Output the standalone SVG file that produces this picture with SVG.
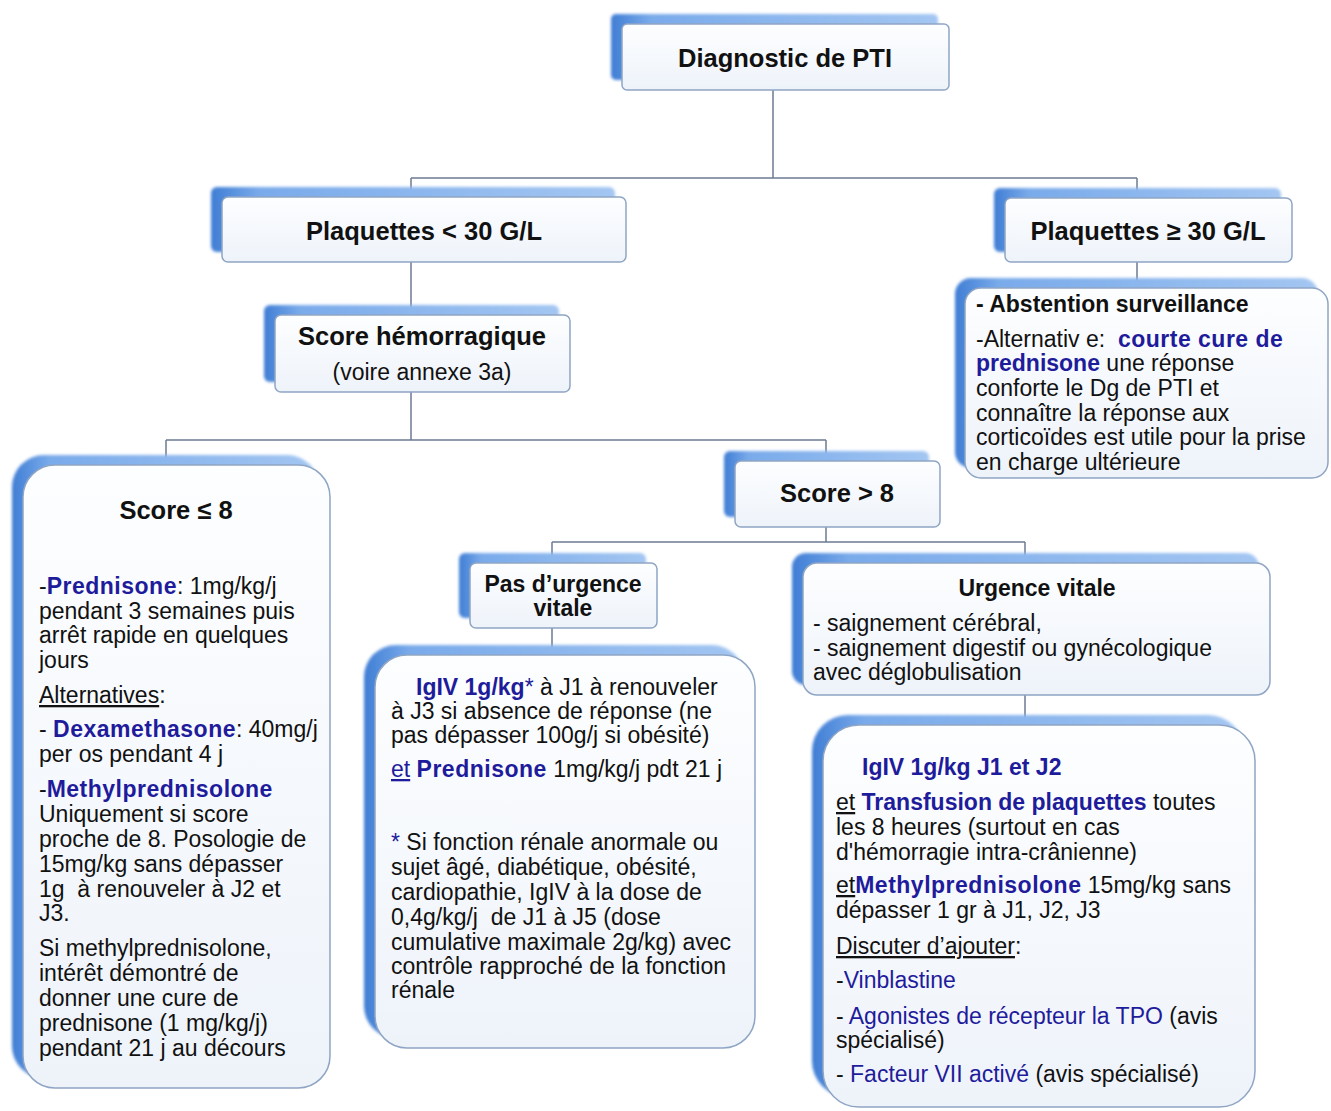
<svg xmlns="http://www.w3.org/2000/svg" width="1331" height="1111" viewBox="0 0 1331 1111">
<defs>
<linearGradient id="gs" x1="0" y1="0" x2="1" y2="0">
<stop offset="0" stop-color="#3f7dd4"/>
<stop offset="0.12" stop-color="#79aaea"/>
<stop offset="1" stop-color="#a3c6f2"/>
</linearGradient>
<linearGradient id="gf" x1="0" y1="0" x2="0" y2="1">
<stop offset="0" stop-color="#fdfeff"/>
<stop offset="1" stop-color="#eef3fa"/>
</linearGradient>
<filter id="blur" x="-5%" y="-5%" width="110%" height="110%">
<feGaussianBlur stdDeviation="1.5"/>
</filter>
<style>
.sh{fill:url(#gs);filter:url(#blur)}
.bx{fill:url(#gf);stroke:#8fa5c4;stroke-width:1.5}
.t{font-family:"Liberation Sans",Arial,sans-serif;font-size:23px;fill:#111}
.h{font-weight:bold;font-size:25.5px}
.b{font-weight:bold}
.bl{fill:#1f1c9c}
.ls{letter-spacing:0.5px}
.u{text-decoration:underline}
.c{text-anchor:middle}
.cn{fill:none;stroke:#6c7b92;stroke-width:1.5}
</style>
</defs>
<rect width="1331" height="1111" fill="#ffffff"/>
<g id="connectors">
<path class="cn" d="M773 90V178M411 178H1137M411 178V197M1137 178V198M411 262V315M1137 262V288M411 392V440M166 440H826M166 440V465M826 440V461M826 527V542M552 542H1025M552 542V563M1025 542V563M552 628V655M1025 695V725"/>
</g>
<g id="diagnostic">
<rect class="sh" x="611" y="14" width="327" height="66" rx="5"/>
<rect class="bx" x="622" y="24" width="327" height="66" rx="5"/>
<text class="t h c" x="785" y="67">Diagnostic de PTI</text>
</g>
<g id="plaquettes-lt30">
<rect class="sh" x="211" y="187" width="404" height="65" rx="6"/>
<rect class="bx" x="222" y="197" width="404" height="65" rx="6"/>
<text class="t h c" x="424" y="240">Plaquettes &lt; 30 G/L</text>
</g>
<g id="plaquettes-ge30">
<rect class="sh" x="994" y="188" width="287" height="64" rx="6"/>
<rect class="bx" x="1005" y="198" width="287" height="64" rx="6"/>
<text class="t h c" x="1148" y="240">Plaquettes ≥ 30 G/L</text>
</g>
<g id="score-hemorragique">
<rect class="sh" x="264" y="305" width="295" height="77" rx="6"/>
<rect class="bx" x="275" y="315" width="295" height="77" rx="6"/>
<text class="t h c" x="422" y="345">Score hémorragique</text>
<text class="t c" x="422" y="380">(voire annexe 3a)</text>
</g>
<g id="abstention">
<rect class="sh" x="955" y="278" width="363" height="190" rx="16"/>
<rect class="bx" x="965" y="288" width="363" height="190" rx="16"/>
<text class="t b" x="976" y="312">- Abstention surveillance</text>
<text class="t" x="976" y="347" xml:space="preserve">-Alternativ e:  <tspan class="b bl ls">courte cure de</tspan></text>
<text class="t" x="976" y="371"><tspan class="b bl">prednisone</tspan> une réponse</text>
<text class="t" x="976" y="396">conforte le Dg de PTI et</text>
<text class="t" x="976" y="421">connaître la réponse aux</text>
<text class="t" x="976" y="445">corticoïdes est utile pour la prise</text>
<text class="t" x="976" y="470">en charge ultérieure</text>
</g>
<g id="score-le8">
<rect class="sh" x="12" y="455" width="307" height="623" rx="32"/>
<rect class="bx" x="23" y="465" width="307" height="623" rx="32"/>
<text class="t h c" x="176" y="519">Score ≤ 8</text>
<text class="t" x="39" y="594">-<tspan class="b bl ls">Prednisone</tspan>: 1mg/kg/j</text>
<text class="t" x="39" y="619">pendant 3 semaines puis</text>
<text class="t" x="39" y="643">arrêt rapide en quelques</text>
<text class="t" x="39" y="668">jours</text>
<text class="t" x="39" y="703"><tspan class="u">Alternatives</tspan>:</text>
<text class="t" x="39" y="737">- <tspan class="b bl ls">Dexamethasone</tspan>: 40mg/j</text>
<text class="t" x="39" y="762">per os pendant 4 j</text>
<text class="t" x="39" y="797">-<tspan class="b bl ls">Methylprednisolone</tspan></text>
<text class="t" x="39" y="822">Uniquement si score</text>
<text class="t" x="39" y="847">proche de 8. Posologie de</text>
<text class="t" x="39" y="872">15mg/kg sans dépasser</text>
<text class="t" x="39" y="897" xml:space="preserve">1g  à renouveler à J2 et</text>
<text class="t" x="39" y="921">J3.</text>
<text class="t" x="39" y="956">Si methylprednisolone,</text>
<text class="t" x="39" y="981">intérêt démontré de</text>
<text class="t" x="39" y="1006">donner une cure de</text>
<text class="t" x="39" y="1031">prednisone (1 mg/kg/j)</text>
<text class="t" x="39" y="1056">pendant 21 j au décours</text>
</g>
<g id="score-gt8">
<rect class="sh" x="724" y="451" width="205" height="66" rx="6"/>
<rect class="bx" x="735" y="461" width="205" height="66" rx="6"/>
<text class="t h c" x="837" y="502">Score &gt; 8</text>
</g>
<g id="pas-urgence">
<rect class="sh" x="459" y="553" width="187" height="65" rx="6"/>
<rect class="bx" x="470" y="563" width="187" height="65" rx="6"/>
<text class="t b c" x="563" y="592">Pas d’urgence</text>
<text class="t b c" x="563" y="616">vitale</text>
</g>
<g id="pas-urgence-traitement">
<rect class="sh" x="364" y="645" width="380" height="393" rx="32"/>
<rect class="bx" x="375" y="655" width="380" height="393" rx="32"/>
<text class="t" x="416" y="695"><tspan class="b bl">IgIV 1g/kg</tspan><tspan class="bl">*</tspan> à J1 à renouveler</text>
<text class="t" x="391" y="719">à J3 si absence de réponse (ne</text>
<text class="t" x="391" y="743">pas dépasser 100g/j si obésité)</text>
<text class="t" x="391" y="777"><tspan class="u bl">et</tspan> <tspan class="b bl ls">Prednisone</tspan> 1mg/kg/j pdt 21 j</text>
<text class="t" x="391" y="850"><tspan class="bl">*</tspan> Si fonction rénale anormale ou</text>
<text class="t" x="391" y="875">sujet âgé, diabétique, obésité,</text>
<text class="t" x="391" y="900">cardiopathie, IgIV à la dose de</text>
<text class="t" x="391" y="925" xml:space="preserve">0,4g/kg/j  de J1 à J5 (dose</text>
<text class="t" x="391" y="950">cumulative maximale 2g/kg) avec</text>
<text class="t" x="391" y="974">contrôle rapproché de la fonction</text>
<text class="t" x="391" y="998">rénale</text>
</g>
<g id="urgence-vitale">
<rect class="sh" x="792" y="553" width="467" height="132" rx="14"/>
<rect class="bx" x="803" y="563" width="467" height="132" rx="14"/>
<text class="t b c" x="1037" y="596">Urgence vitale</text>
<text class="t" x="813" y="631">- saignement cérébral,</text>
<text class="t" x="813" y="656">- saignement digestif ou gynécologique</text>
<text class="t" x="813" y="680">avec déglobulisation</text>
</g>
<g id="urgence-traitement">
<rect class="sh" x="812" y="715" width="432" height="382" rx="36"/>
<rect class="bx" x="823" y="725" width="432" height="382" rx="36"/>
<text class="t b bl" x="862" y="775">IgIV 1g/kg J1 et J2</text>
<text class="t" x="836" y="810"><tspan class="u">et</tspan> <tspan class="b bl">Transfusion de plaquettes</tspan> toutes</text>
<text class="t" x="836" y="835">les 8 heures (surtout en cas</text>
<text class="t" x="836" y="860">d'hémorragie intra-crânienne)</text>
<text class="t" x="836" y="893"><tspan class="u">et</tspan><tspan class="b bl ls">Methylprednisolone</tspan> 15mg/kg sans</text>
<text class="t" x="836" y="918">dépasser 1 gr à J1, J2, J3</text>
<text class="t" x="836" y="954"><tspan class="u">Discuter d’ajouter</tspan>:</text>
<text class="t" x="836" y="988">-<tspan class="bl">Vinblastine</tspan></text>
<text class="t" x="836" y="1024">- <tspan class="bl">Agonistes de récepteur la TPO</tspan> (avis</text>
<text class="t" x="836" y="1048">spécialisé)</text>
<text class="t" x="836" y="1082">- <tspan class="bl">Facteur VII activé</tspan> (avis spécialisé)</text>
</g>
</svg>
